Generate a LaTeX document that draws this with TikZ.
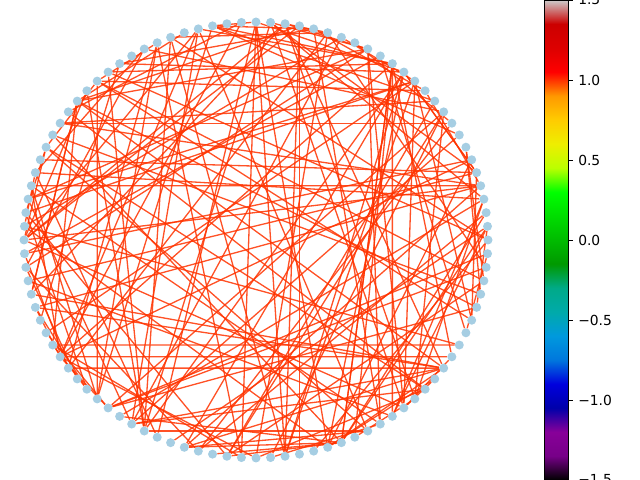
\documentclass[tikz,border=0pt]{standalone}
\usepackage{fontspec}
\setmainfont{DejaVu Sans}
\usepackage{xcolor}
\usetikzlibrary{backgrounds}

\definecolor{nodeblue}{RGB}{166,206,227}
\definecolor{edgered}{rgb}{1,0.2,0}

% nipy_spectral colormap, bottom (-1.5) to top (1.5)
\pgfdeclareverticalshading{nipyspectral}{100bp}{%
  rgb(0bp)=(0,0,0); rgb(25bp)=(0,0,0);
  rgb(27.5bp)=(.4667,0,.5333); rgb(30bp)=(.5333,0,.6);
  rgb(32.5bp)=(0,0,.6667); rgb(35bp)=(0,0,.8667);
  rgb(37.5bp)=(0,.4667,.8667); rgb(40bp)=(0,.6,.8667);
  rgb(42.5bp)=(0,.6667,.6667); rgb(45bp)=(0,.6667,.5333);
  rgb(47.5bp)=(0,.6,0); rgb(50bp)=(0,.7333,0);
  rgb(52.5bp)=(0,.8667,0); rgb(55bp)=(0,1,0);
  rgb(57.5bp)=(.7333,1,0); rgb(60bp)=(.9333,.9333,0);
  rgb(62.5bp)=(1,.8,0); rgb(65bp)=(1,.6,0);
  rgb(67.5bp)=(1,0,0); rgb(70bp)=(.8667,0,0);
  rgb(72.5bp)=(.8,0,0); rgb(75bp)=(.8,.8,.8);
  rgb(100bp)=(.8,.8,.8)}

\begin{document}
\begin{tikzpicture}[x=0.01in, y=-0.01in,
    vertex/.style={circle, fill=nodeblue, inner sep=0pt, minimum size=6.5pt},
    edge/.style={draw=edgered, opacity=0.85, line width=0.95pt}]
    \useasboundingbox (0,0) rectangle (640,480);
    \clip (0,0) rectangle (640,480);

    % Vertices (circular layout)
    \foreach \i in {0,...,99}
        \node[vertex] (n\i) at ({256+232*cos(3.6*\i)}, {240-218*sin(3.6*\i)}) {};

    % Edges
    \begin{pgfonlayer}{background}
        \draw[edge] (n58) -- (n92);
        \draw[edge] (n59) -- (n91);
        \draw[edge] (n60) -- (n90);
        \draw[edge] (n41) -- (n9);
        \pgfmathsetseed{2024}
        \foreach \k in {1,...,182} {
            \pgfmathtruncatemacro\ea{random(0,99)}
            \pgfmathtruncatemacro\eb{mod(\ea+random(3,97),100)}
            \draw[edge] (n\ea) -- (n\eb);
        }
    \end{pgfonlayer}

    % Colorbar
    \shade[shading=nipyspectral] (544,0) rectangle (568,480);
    \draw[line width=0.7pt] (544,0) rectangle (568,480);
    \foreach \v/\y in {1.5/0, 1.0/80, 0.5/160, 0.0/240, −0.5/320, −1.0/400, −1.5/480} {
        \draw[line width=0.7pt] (568,\y) -- (573,\y);
        \node[anchor=west, inner sep=0pt] (t\y) at (578,\y) {\v};
    }
\end{tikzpicture}
\end{document}
